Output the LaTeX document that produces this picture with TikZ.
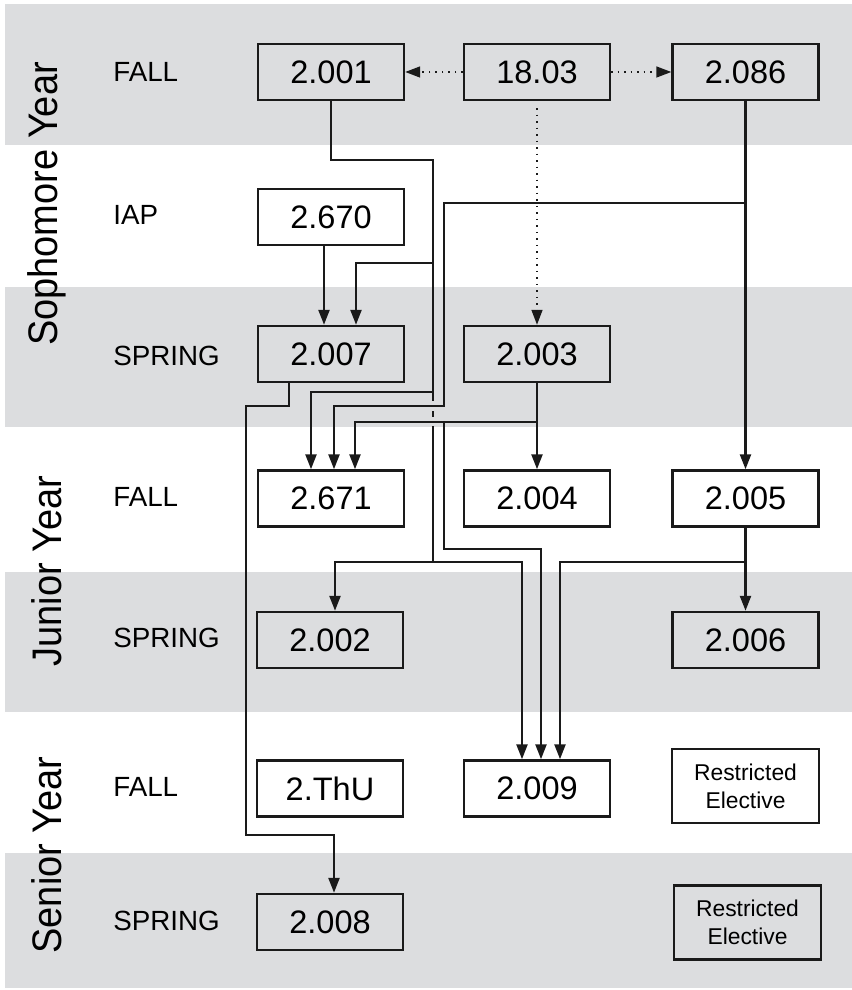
\documentclass[tikz,border=0pt]{standalone}
\usepackage{fontspec}
\setmainfont{Liberation Sans}
\newfontfamily\yearfont{Liberation Sans}[FakeStretch=0.92]
\usetikzlibrary{arrows.meta}
\definecolor{BandGray}{HTML}{DCDDDF}
\definecolor{LineBlack}{HTML}{1A1A1A}

\begin{document}
\begin{tikzpicture}[x=1cm,y=1cm,
  course/.style={draw=LineBlack,line width=1.4pt,minimum width=2.92cm,minimum height=1.12cm,inner sep=0pt,font=\fontsize{18.5}{20}\selectfont},
  elective/.style={course,minimum width=2.94cm,minimum height=1.48cm,align=center,font=\fontsize{13}{16}\selectfont},
  term/.style={anchor=west,inner sep=0pt,font=\fontsize{15.8}{18}\selectfont},
  year/.style={rotate=90,inner sep=0pt,font=\yearfont\fontsize{23.5}{26}\selectfont},
  link/.style={draw=LineBlack,line width=1.35pt},
  prereq/.style={link,-{Triangle[length=0.30cm,width=0.22cm]}},
  mathlink/.style={draw=LineBlack,line width=0.9pt,dash pattern=on 0.9pt off 2.8pt,-{Triangle[length=0.30cm,width=0.22cm]}}]
\path[use as bounding box] (0,0) rectangle (17.04,19.80);
\fill[BandGray] (0.10,16.90) rectangle (17.04,19.72);
\fill[BandGray] (0.10,11.26) rectangle (17.04,14.06);
\fill[BandGray] (0.10,5.56) rectangle (17.04,8.36);
\fill[BandGray] (0.10,0.04) rectangle (17.04,2.74);
\node[year] (ysoph) at (0.94,15.72) {Sophomore Year};
\node[year] (yjun) at (0.94,8.38) {Junior Year};
\node[year] (ysen) at (0.94,2.70) {Senior Year};
\node[term] (tfall1) at (2.26,18.36) {FALL};
\node[term] (tiap) at (2.26,15.50) {IAP};
\node[term] (tspr1) at (2.26,12.68) {SPRING};
\node[term] (tfall2) at (2.26,9.86) {FALL};
\node[term] (tspr2) at (2.26,7.04) {SPRING};
\node[term] (tfall3) at (2.26,4.06) {FALL};
\node[term] (tspr3) at (2.26,1.38) {SPRING};
\node[course] (s2001) at (6.62,18.36) {2.001};
\node[course] (m1803) at (10.74,18.36) {18.03};
\node[course] (s2086) at (14.91,18.36) {2.086};
\node[course] (s2670) at (6.62,15.46) {2.670};
\node[course] (s2007) at (6.62,12.72) {2.007};
\node[course] (s2003) at (10.74,12.72) {2.003};
\node[course] (s2671) at (6.62,9.83) {2.671};
\node[course] (s2004) at (10.74,9.83) {2.004};
\node[course] (s2005) at (14.91,9.83) {2.005};
\node[course] (s2002) at (6.60,7.00) {2.002};
\node[course] (s2006) at (14.91,7.00) {2.006};
\node[course] (s2thu) at (6.60,4.03) {2.ThU};
\node[course] (s2009) at (10.74,4.03) {2.009};
\node[elective] (re1) at (14.91,4.08) {Restricted\\Elective};
\node[course] (s2008) at (6.60,1.36) {2.008};
\node[elective] (re2) at (14.95,1.35) {Restricted\\Elective};
\coordinate (t1) at (8.66,16.60);
\coordinate (t2) at (8.66,8.56);
\coordinate (b1) at (8.66,14.54);
\coordinate (b2) at (8.66,11.96);
\coordinate (b3) at (14.91,15.74);
\coordinate (k1) at (8.88,11.68);
\coordinate (b4) at (10.74,11.36);
\coordinate (k2) at (8.88,11.36);
\coordinate (k3) at (10.82,8.82);
\coordinate (b5) at (14.91,8.56);
\coordinate (k4) at (4.92,11.68);
\coordinate (k5) at (6.68,3.10);
\draw[mathlink] (m1803) -- (s2001);
\draw[mathlink] (m1803) -- (s2086);
\draw[mathlink,shorten <=0.14cm] (m1803) -- (s2003);
\draw[link] (s2001) |- (t1) -- (t2);
\draw[prereq] (b1) -| ([xshift=0.50cm]s2007.north);
\draw[prereq] (b2) -| ([xshift=-0.40cm]s2671.north);
\draw[prereq] (t2) -| ([xshift=0.10cm]s2002.north);
\draw[prereq] (t2) -| ([xshift=-0.30cm]s2009.north);
\fill[BandGray] (8.60,11.58) rectangle (8.72,11.78);
\fill[BandGray] (8.60,11.27) rectangle (8.72,11.45);
\draw[prereq] (s2086) -- (s2005);
\draw[prereq] (b3) -| (k1) -| ([xshift=0.06cm]s2671.north);
\draw[prereq] ([xshift=-0.14cm]s2670.south) -- ([xshift=-0.14cm]s2007.north);
\draw[prereq] (s2003) -- (s2004);
\draw[prereq] (b4) -| ([xshift=0.48cm]s2671.north);
\draw[prereq] (k2) |- (k3) -- (k3 |- s2009.north);
\draw[prereq] (s2005) -- (s2006);
\draw[prereq] (b5) -| ([xshift=0.46cm]s2009.north);
\draw[prereq] ([xshift=-0.84cm]s2007.south) |- (k4) |- (k5) -- (k5 |- s2008.north);
\end{tikzpicture}
\end{document}
